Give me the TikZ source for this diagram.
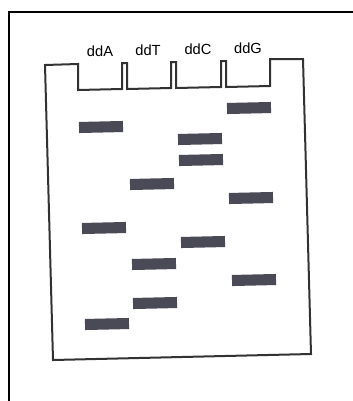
\documentclass[tikz,border=0pt]{standalone}
\usepackage{fontspec}
\setmainfont{Liberation Sans}
\usetikzlibrary{positioning}

\definecolor{bandgray}{RGB}{74,74,86}
\definecolor{gelline}{RGB}{50,50,50}

\tikzset{
  band/.style={fill=bandgray,minimum width=33pt,minimum height=8.3pt,inner sep=0pt,rotate=1.3},
  lanelabel/.style={font=\fontsize{11}{13}\selectfont,inner sep=0pt}
}

\begin{document}
\begin{tikzpicture}[x=0.75pt,y=-0.75pt]
\useasboundingbox (0,0) rectangle (353,401);

% outer frame
\draw[line width=1.5pt] (9,401) -- (9,12) -- (353,12);

% gel with the four wells
\draw[gelline,line width=1.5pt,line join=miter] (53,360) -- (45,65) -- (78,64) -- (78,90)
  -- (122,89) -- (122,63) -- (127,63) -- (127,89) -- (171,88) -- (171,62) -- (176,62)
  -- (176,88) -- (221,87) -- (221,61) -- (226,61) -- (226,87) -- (270,86) -- (270,59)
  -- (303,59) -- (311,354) -- cycle;

\node[lanelabel] (ddA) at (100,51) {ddA};
\node[lanelabel] (ddT) at (148,50) {ddT};
\node[lanelabel] (ddC) at (198,49) {ddC};
\node[lanelabel] (ddG) at (248,48) {ddG};

% bands
\node[band] (g1) at (249,108) {};
\node[band] (a1) at (101,127) {};
\node[band] (c1) at (200,139) {};
\node[band] (c2) at (201,160) {};
\node[band] (t1) at (152,184) {};
\node[band] (g2) at (251,198) {};
\node[band] (a2) at (104,228) {};
\node[band] (c3) at (203,242) {};
\node[band] (t2) at (154,264) {};
\node[band] (g3) at (254,280) {};
\node[band] (t3) at (155,303) {};
\node[band] (a3) at (107,324) {};
\end{tikzpicture}
\end{document}
